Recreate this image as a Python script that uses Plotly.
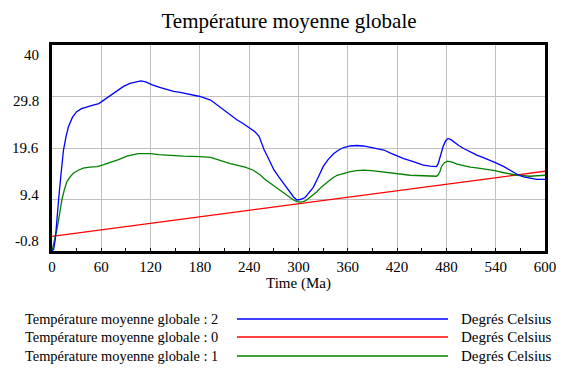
import plotly.graph_objects as go

# Series 2 (blue)
t2 = [0, 2, 4, 6, 8, 11, 14, 17, 20, 25, 30, 36, 43, 50, 57, 64, 71, 79, 87, 95, 103, 108, 114, 122, 131, 140, 148, 156, 168, 180, 193, 201, 209, 217, 225, 233, 241, 247, 252, 255, 258, 262, 266, 270, 276, 282, 288, 294, 298, 302, 308, 313, 318, 324, 330, 336, 343, 349, 355, 363, 371, 379, 387, 399, 404, 412, 420, 428, 436, 444, 452, 460, 468, 470, 472, 474, 476, 479, 482, 486, 489, 495, 501, 509, 517, 525, 533, 541, 550, 558, 566, 574, 582, 590, 600]
v2 = [-0.8, -0.5, 1.5, 5.9, 9.3, 14.5, 19.2, 21.8, 23.8, 25.7, 26.8, 27.4, 27.8, 28.1, 28.4, 29.2, 30.1, 30.9, 31.8, 32.4, 32.8, 32.9, 32.7, 32.1, 31.6, 31.1, 30.8, 30.6, 30.2, 29.8, 29.1, 28.1, 27.2, 26.2, 25.2, 24.4, 23.5, 22.8, 21.9, 20.6, 19.3, 18.0, 16.6, 15.3, 13.9, 12.6, 11.2, 9.9, 9.3, 9.4, 9.8, 10.7, 11.8, 13.8, 15.9, 17.3, 18.5, 19.2, 19.7, 20.0, 20.1, 20.0, 19.7, 19.4, 19.2, 18.6, 18.0, 17.5, 17.1, 16.6, 16.2, 16.0, 15.9, 16.5, 17.6, 18.9, 19.9, 21.0, 21.5, 21.2, 20.8, 20.1, 19.5, 18.8, 18.2, 17.7, 17.2, 16.6, 15.9, 15.1, 14.4, 13.9, 13.6, 13.4, 13.4]

# Series 1 (green)
t1 = [0, 2, 4, 6, 8, 10, 12, 15, 18, 22, 26, 32, 38, 46, 55, 63, 71, 81, 91, 98, 105, 112, 120, 130, 140, 150, 160, 170, 180, 193, 201, 209, 217, 225, 235, 245, 250, 254, 259, 264, 270, 276, 282, 288, 294, 298, 302, 306, 310, 316, 322, 328, 335, 341, 347, 355, 363, 371, 379, 389, 399, 404, 412, 420, 428, 436, 452, 468, 470, 472, 474, 477, 481, 487, 493, 501, 509, 519, 529, 539, 550, 558, 566, 574, 582, 590, 600]
v1 = [-0.8, 0.5, 1.8, 3.5, 5.3, 7.4, 9.3, 11.3, 12.9, 13.9, 14.6, 15.2, 15.6, 15.8, 15.9, 16.3, 16.7, 17.3, 18.0, 18.3, 18.5, 18.5, 18.5, 18.3, 18.15, 18.1, 18.0, 18.0, 17.9, 17.75, 17.3, 16.9, 16.5, 16.2, 15.8, 15.2, 14.7, 14.2, 13.4, 12.8, 12.2, 11.4, 10.6, 9.9, 9.3, 9.0, 8.9, 9.0, 9.3, 10.1, 10.9, 11.9, 12.9, 13.6, 14.2, 14.6, 14.9, 15.1, 15.2, 15.1, 14.9, 14.9, 14.75, 14.6, 14.4, 14.2, 14.1, 14.0, 14.3, 14.9, 15.9, 16.6, 17.0, 16.8, 16.4, 16.1, 15.8, 15.6, 15.4, 15.1, 14.7, 14.4, 14.2, 14.1, 14.0, 14.1, 14.2]

# Series 0 (red)
t0 = [0, 60, 120, 180, 240, 300, 360, 420, 480, 540, 600]
v0 = [2.1, 3.4, 4.7, 6.0, 7.3, 8.6, 9.9, 11.2, 12.5, 13.8, 15.0]

x_ticks = [0, 60, 120, 180, 240, 300, 360, 420, 480, 540, 600]
y_ticks = [-0.8, 9.4, 19.6, 29.8, 40]
y_tick_text = ["-0.8", "9.4", "19.6", "29.8", "40"]

title = "Température moyenne globale"
x_title = "Time (Ma)"
legend_names = ["Température moyenne globale : 2", "Température moyenne globale : 0", "Température moyenne globale : 1"]
legend_units = "Degrés Celsius"
colors = ["#0000ff", "#ff0000", "#008000"]

FONT = "Liberation Serif, Times New Roman, serif"

# the page body has an 8px margin, so layout offsets are reduced by 8px
OFF = 8
Y_MIN, Y_MAX = -0.8, 40

fig = go.Figure()
fig.add_trace(go.Scatter(x=t0, y=v0, mode="lines", line=dict(color=colors[1], width=1.3), showlegend=False))
fig.add_trace(go.Scatter(x=t1, y=v1, mode="lines", line=dict(color=colors[2], width=1.3), showlegend=False))
fig.add_trace(go.Scatter(x=t2, y=v2, mode="lines", line=dict(color=colors[0], width=1.3), showlegend=False))

axis_common = dict(showgrid=True, gridcolor="#c0c0c0", gridwidth=1, showline=True, linecolor="black",
                   linewidth=3, mirror=True, zeroline=False, automargin=False,
                   tickfont=dict(family=FONT, size=15, color="black"))
fig.update_xaxes(range=[0, 600], tickvals=x_ticks, ticks="inside", ticklen=3, tickcolor="black",
                 minor=dict(ticks="inside", ticklen=3, dtick=30, tickcolor="black", showgrid=False),
                 title=dict(text=x_title, font=dict(family=FONT, size=15, color="black"), standoff=3), **axis_common)
fig.update_yaxes(range=[Y_MIN, Y_MAX], tickvals=y_ticks, showticklabels=False, ticks="", **axis_common)

# y tick labels: spread slightly inward like the original software does
mid = (Y_MIN + Y_MAX) / 2
for val, txt in zip(y_ticks, y_tick_text):
    fig.add_annotation(x=0, xref="paper", y=val, yref="y", text=txt, showarrow=False,
                       xanchor="right", yanchor="middle", xshift=-11,
                       yshift=-(val - mid) / ((Y_MAX - Y_MIN) / 2) * 9.7,
                       font=dict(family=FONT, size=15, color="black"))

# legend drawn below (pixel positions of the reference, converted to paper units)
plot_left, plot_w, plot_bottom, plot_h = 52, 493, 251, 206
rows_py = [319, 337, 356]
for i, py in enumerate(rows_py):
    yp = (plot_bottom - py) / plot_h
    fig.add_annotation(x=(23 - plot_left) / plot_w, y=yp, xref="paper", yref="paper", text=legend_names[i],
                       showarrow=False, xanchor="left", yanchor="middle", font=dict(family=FONT, size=14.4, color="black"))
    fig.add_annotation(x=(459 - plot_left) / plot_w, y=yp, xref="paper", yref="paper", text=legend_units,
                       showarrow=False, xanchor="left", yanchor="middle", font=dict(family=FONT, size=15, color="black"))
    fig.add_shape(type="line", xref="paper", yref="paper", x0=(237 - plot_left) / plot_w, x1=(448 - plot_left) / plot_w,
                  y0=yp, y1=yp, line=dict(color=colors[i], width=1.3))

fig.update_layout(
    width=575, height=384,
    margin=dict(l=52 - OFF, r=30 + OFF, t=45 - OFF, b=133 + OFF, autoexpand=False),
    paper_bgcolor="white", plot_bgcolor="white",
    title=dict(text=title, x=(289 - OFF) / 575, xanchor="center", y=1 - (21 - OFF) / 384, yanchor="middle",
               font=dict(family=FONT, size=21, color="black")),
    font=dict(family=FONT, color="black"),
)

fig.write_html("out.html")
